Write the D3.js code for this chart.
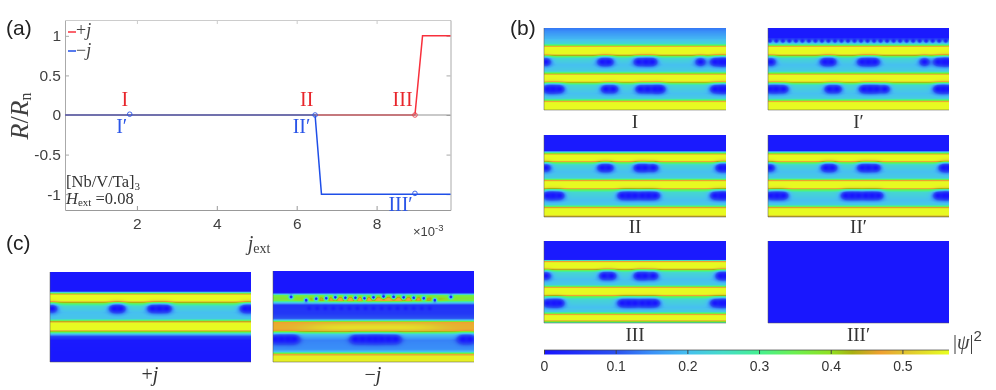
<!DOCTYPE html>
<html>
<head>
<meta charset="utf-8">
<script src="https://cdn.jsdelivr.net/npm/d3@7"></script>
<style>
html, body { margin: 0; background: #fff; }
#wrap { position: relative; width: 996px; height: 390px; overflow: hidden; }
canvas { position: absolute; }
svg { position: absolute; left: 0; top: 0; }
</style>
</head>
<body>
<div id="wrap"></div>
<script>
// (a) R/Rn curves
var jPlus = [0.2, 8.96, 9.15, 9.85];
var rPlus = [0, 0, 1, 1];
var jMinus = [0.2, 6.46, 6.62, 9.85];
var rMinus = [0, 0, -1, -1];
var yTicks = [-1, -0.5, 0, 0.5, 1];
var xTicks = [2, 4, 6, 8];
var markers = [[1.82, 0.01, "#2a55e8"], [6.46, 0, "#2a55e8"], [8.96, 0, "#e8404a"], [8.96, -0.99, "#2a55e8"]];
var curveLabels = [["I", 1.7, 0.19, "#e8252b"], ["II", 6.25, 0.19, "#e8252b"], ["III", 8.65, 0.19, "#e8252b"],
    ["I\u2032", 1.62, -0.14, "#2a55e8"], ["II\u2032", 6.12, -0.14, "#2a55e8"], ["III\u2032", 8.6, -1.13, "#2a55e8"]];

// colour bar
var cbValues = [0, 0.1, 0.15, 0.2, 0.25, 0.3, 0.35, 0.4, 0.43, 0.47, 0.5, 0.565];
var cbColors = ["#1814ff", "#2a50f0", "#3a90f8", "#46c0f0", "#45dcc8", "#45f090", "#6cf050", "#90e020", "#a8b010", "#f0a030", "#e0c030", "#e8ff20"];
var cbTicks = [0, 0.1, 0.2, 0.3, 0.4, 0.5];

// |psi|^2 against height (0 top, 1 bottom) for every map
var profileI = [[0, .13], [.13, .19], [.19, .24], [.214, .37], [.223, .47], [.236, .56], [.315, .56], [.332, .47], [.341, .37], [.37, .24], [.45, .2], [.526, .22], [.552, .37], [.563, .47], [.576, .56], [.648, .56], [.66, .47], [.669, .37], [.7, .24], [.8, .2], [.858, .22], [.885, .37], [.895, .47], [.91, .56], [1, .56]];
var profileIp = [[0, .01], [.115, .01], [.15, .16], [.195, .25], [.214, .37], [.223, .47], [.236, .56], [.315, .56], [.332, .47], [.341, .37], [.37, .24], [.45, .2], [.526, .22], [.552, .37], [.563, .47], [.576, .56], [.648, .56], [.66, .47], [.669, .37], [.7, .24], [.8, .2], [.858, .22], [.885, .37], [.895, .47], [.91, .56], [1, .56]];
var profileII = [[0, .01], [.19, .01], [.205, .2], [.224, .37], [.232, .47], [.245, .56], [.31, .56], [.325, .47], [.334, .37], [.365, .24], [.45, .2], [.525, .22], [.546, .37], [.555, .47], [.57, .56], [.64, .56], [.655, .47], [.664, .37], [.7, .24], [.8, .2], [.85, .22], [.876, .37], [.885, .47], [.9, .56], [.975, .56], [.99, .47], [1, .4]];
var profileIII = [[0, .01], [.225, .01], [.24, .3], [.25, .47], [.265, .56], [.33, .56], [.345, .47], [.354, .37], [.385, .24], [.47, .2], [.535, .22], [.556, .37], [.565, .47], [.58, .56], [.65, .56], [.665, .47], [.674, .37], [.71, .24], [.81, .2], [.86, .22], [.886, .37], [.895, .47], [.91, .56], [.96, .56], [.975, .47], [.985, .37], [1, .25]];
var profileIIIp = [[0, .005], [1, .005]];
var profilePlus = [[0, .005], [.21, .005], [.225, .2], [.238, .37], [.245, .47], [.26, .56], [.32, .56], [.335, .47], [.344, .37], [.38, .24], [.45, .2], [.52, .21], [.544, .37], [.552, .47], [.57, .56], [.64, .56], [.655, .47], [.665, .37], [.69, .2], [.72, .07], [.76, .01], [1, .005]];
var profileMinus = [[0, .005], [.235, .005], [.255, .2], [.27, .36], [.3, .38], [.325, .36], [.345, .22], [.38, .05], [.47, .06], [.52, .1], [.54, .2], [.553, .36], [.565, .47], [.58, .48], [.63, .485], [.66, .47], [.67, .36], [.7, .2], [.76, .14], [.86, .15], [.885, .2], [.905, .36], [.915, .47], [.94, .55], [1, .55]];

// vortex rows: height and along-the-film positions 0..100
var xRow1I = [1, 32, 35.5, 52, 56, 59.5, 86, 94, 97.5, 100];
var xRow2I = [2, 5, 8.5, 34, 38, 53, 57, 61, 64, 94, 97.5, 100];
var xRow1Ip = [1.5, 31.5, 35, 52, 55.5, 59, 86.5, 94, 97.5, 100];
var xRow2Ip = [1, 4.5, 8.5, 34, 38, 53, 56.5, 60, 64.5, 94, 97, 100];
var xTopIp = [1, 4.6, 8.2, 11.8, 15.4, 19, 22.6, 26.2, 29.8, 33.4, 37, 40.6, 44.2, 47.8, 51.4, 55, 58.6, 62.2, 65.8, 69.4, 73, 76.6, 80.2, 83.8, 87.4, 91, 94.6, 98.2];
var xRow1II = [1, 32, 35.5, 52, 55.5, 60, 97, 100];
var xRow2II = [2, 5, 8.5, 43, 46.5, 50, 54, 57.5, 61, 94, 97.5, 100];
var xRow1IIp = [1, 32, 35.5, 52, 55.5, 59.5, 97, 100];
var xRow2IIp = [1.5, 5, 8.5, 43, 46.5, 50, 54, 57.5, 61, 94, 97.5, 100];
var xRow1III = [1, 33, 37, 52, 55.5, 60, 97, 100];
var xRow2III = [2, 5.5, 8.5, 43, 46.5, 50, 54, 57.5, 61, 94, 97.5, 100];
var xRowPlus = [1, 32, 35, 51, 54.5, 58, 97, 100];
var xTopMinus = [9, 16.5, 21.5, 26.5, 31, 36, 41, 45.5, 50, 55, 60, 65, 70, 75, 80.5, 88.5];
var yTopMinus = [.285, .32, .305, .3, .29, .295, .295, .3, .29, .28, .285, .29, .295, .3, .32, .285];
var xDimMinus = [18, 22, 26, 30, 34, 38, 42, 46, 50, 54, 58, 62, 66, 70, 74, 78];
var xRowMinus = [1, 4.2, 7.5, 10.5, 41, 44.5, 48, 51, 54, 57.5, 61, 94.5, 98];

function rowOf(y, xs, sx, sy, depth) {
    return xs.map(function (x) { return { x: x, y: y, sx: sx, sy: sy, depth: depth }; });
}

// blob size along and across the film, in pixels
var bx = 4, by = 3.1;
var maps = [
    { name: "I", label: "I", box: [544, 28, 182, 82], ly: 127.5, profile: profileI, vortices: rowOf(.413, xRow1I, bx, by, 1).concat(rowOf(.745, xRow2I, bx, by, 1)) },
    { name: "Ip", label: "I\u2032", box: [768, 28, 181, 82], ly: 127.5, profile: profileIp, vortices: rowOf(.413, xRow1Ip, bx, by, 1).concat(rowOf(.745, xRow2Ip, bx, by, 1)).concat(rowOf(.155, xTopIp, 1.6, 1.6, .9)) },
    { name: "II", label: "II", box: [544, 135, 182, 82], ly: 233, profile: profileII, vortices: rowOf(.4, xRow1II, bx, by, 1).concat(rowOf(.739, xRow2II, bx, by, 1)) },
    { name: "IIp", label: "II\u2032", box: [768, 135, 181, 82], ly: 233, profile: profileII, vortices: rowOf(.4, xRow1IIp, bx, by, 1).concat(rowOf(.739, xRow2IIp, bx, by, 1)) },
    { name: "III", label: "III", box: [544, 241, 182, 82], ly: 341, profile: profileIII, vortices: rowOf(.425, xRow1III, bx, by, 1).concat(rowOf(.757, xRow2III, bx, by, 1)) },
    { name: "IIIp", label: "III\u2032", box: [768, 241, 181, 82], ly: 341, profile: profileIIIp, vortices: [] },
    { name: "plus", box: [50, 272, 201, 90], profile: profilePlus, vortices: rowOf(.407, xRowPlus, 4.2, 3.2, 1) },
    { name: "minus", box: [273, 271, 201, 91], profile: profileMinus,
      bumps: [{ x: 50, y: .315, amp: .13, sx: 32, sy: .03 }, { x: 50, y: .62, amp: .05, sx: 34, sy: .05 }],
      vortices: xTopMinus.map(function (x, i) { return { x: x, y: yTopMinus[i], sx: 1.5, sy: 1.5, depth: 1 }; })
        .concat(rowOf(.41, xDimMinus, 1.6, 1.6, .6)).concat(rowOf(.75, xRowMinus, bx, by, 1)) }
];

var W = 996, H = 390;
var wrap = d3.select("#wrap");
var color = d3.scaleLinear().domain(cbValues).range(cbColors).interpolate(d3.interpolateRgb).clamp(true);

// lookup so every pixel does not parse a colour string
var lut = d3.range(0, 601).map(function (i) { return d3.rgb(color(i / 1000)); });

function drawMap(m) {
    var w = m.box[2], h = m.box[3];
    var cv = wrap.append("canvas")
        .attr("width", w)
        .attr("height", h)
        .style("left", m.box[0] + "px")
        .style("top", m.box[1] + "px")
        .style("filter", "blur(0.4px)");
    var ctx = cv.node().getContext("2d");
    var img = ctx.createImageData(w, h);
    var xf = d3.scaleLinear().domain([0, 100]).range([0, w]);
    var yf = d3.scaleLinear().domain([0, 1]).range([0, h]);
    var prof = d3.scaleLinear().domain(m.profile.map(function (d) { return d[0]; }))
        .range(m.profile.map(function (d) { return d[1]; })).clamp(true);
    for (var j = 0; j < h; j++) {
        for (var i = 0; i < w; i++) {
            var fx = xf.invert(i + 0.5), fy = yf.invert(j + 0.5);
            var v = prof(fy);
            (m.bumps || []).forEach(function (b) {
                var dx = (fx - b.x) / b.sx, dy = (fy - b.y) / b.sy;
                v += b.amp * Math.exp(-(dx * dx * dx * dx) - dy * dy);
            });
            m.vortices.forEach(function (p) {
                var dx = (i + 0.5 - xf(p.x)) / p.sx, dy = (j + 0.5 - yf(p.y)) / p.sy;
                v *= 1 - p.depth * Math.exp(-(dx * dx + dy * dy) / 2);
            });
            var c = lut[Math.max(0, Math.min(600, Math.round(v * 1000)))];
            var k = (j * w + i) * 4;
            img.data[k] = c.r; img.data[k + 1] = c.g; img.data[k + 2] = c.b; img.data[k + 3] = 255;
        }
    }
    ctx.putImageData(img, 0, 0);
}
maps.forEach(drawMap);

var svg = wrap.append("svg").attr("width", W).attr("height", H);

var serif = "'Liberation Serif', serif";
var sans = "'Liberation Sans', Arial, sans-serif";

// panel edges of the maps
maps.forEach(function (m) {
    var b = m.box;
    svg.append("path")
        .attr("d", "M" + b[0] + "," + b[1] + "V" + (b[1] + b[3]) + "H" + (b[0] + b[2]))
        .attr("fill", "none").attr("stroke", "#555").attr("stroke-opacity", 0.5);
    if (m.label) {
        svg.append("text").attr("x", b[0] + b[2] / 2).attr("y", m.ly)
            .attr("text-anchor", "middle").attr("font-family", serif).attr("font-size", 19)
            .attr("fill", "#333").text(m.label);
    }
});

// (a)
var x = d3.scaleLinear().domain([0.2, 9.85]).range([65, 450.5]);
var y = d3.scaleLinear().domain([-1.2, 1.2]).range([210, 20]);
var line = d3.line().x(function (d) { return x(d[0]); }).y(function (d) { return y(d[1]); });

function styleAxis(g, stroke) {
    g.selectAll("path").attr("stroke", stroke);
    g.selectAll("line").attr("stroke", stroke);
    g.selectAll("text").attr("fill", "#404040").attr("font-family", sans).attr("font-size", 15.5);
}
svg.append("g").attr("transform", "translate(0,210)")
    .call(d3.axisBottom(x).tickValues(xTicks).tickFormat(d3.format("d")).tickSizeInner(-4).tickSizeOuter(0).tickPadding(8)).call(styleAxis, "#999");
svg.append("g").attr("transform", "translate(65,0)")
    .call(d3.axisLeft(y).tickValues(yTicks).tickFormat(function (d) { return d3.format("")(d).replace("\u2212", "-"); }).tickSizeInner(-4).tickSizeOuter(0).tickPadding(4)).call(styleAxis, "#aaa");
svg.append("g").attr("transform", "translate(0,20)")
    .call(d3.axisTop(x).tickValues(xTicks).tickFormat("").tickSizeInner(-4).tickSizeOuter(0)).call(styleAxis, "#ccc");
svg.append("g").attr("transform", "translate(450.5,0)")
    .call(d3.axisRight(y).tickValues(yTicks).tickFormat("").tickSizeInner(-4).tickSizeOuter(0)).call(styleAxis, "#aaa");

svg.append("path").attr("d", line(jPlus.map(function (d, i) { return [d, rPlus[i]]; })))
    .attr("fill", "none").attr("stroke", "#f8303c").attr("stroke-width", 1.5);
svg.append("path").attr("d", line(jMinus.map(function (d, i) { return [d, rMinus[i]]; })))
    .attr("fill", "none").attr("stroke", "#1f4fe8").attr("stroke-width", 1.5);
svg.append("path").attr("d", line([[0.2, 0], [9.85, 0]]))
    .attr("fill", "none").attr("stroke", "#909090").attr("stroke-opacity", 0.65).attr("stroke-width", 1.6);

svg.selectAll(".mk").data(markers).enter().append("circle").attr("class", "mk")
    .attr("cx", function (d) { return x(d[0]); })
    .attr("cy", function (d) { return y(d[1]); })
    .attr("r", 2.3)
    .attr("fill", "none")
    .attr("stroke-width", 0.9)
    .attr("stroke", function (d) { return d[2]; });

svg.selectAll(".cl").data(curveLabels).enter().append("text").attr("class", "cl")
    .attr("x", function (d) { return x(d[1]); })
    .attr("y", function (d) { return y(d[2]) + 6.5; })
    .attr("text-anchor", "middle")
    .attr("font-family", serif).attr("font-size", 20)
    .attr("fill", function (d) { return d[3]; })
    .text(function (d) { return d[0]; });

// legend
function mathText(px, py, size, fill, parts, anchor) {
    var t = svg.append("text").attr("x", px).attr("y", py)
        .attr("font-family", serif).attr("font-size", size).attr("fill", fill)
        .attr("text-anchor", anchor || "start");
    parts.forEach(function (p) {
        var s = t.append("tspan").text(p.t);
        if (p.i) s.attr("font-style", "italic");
        if (p.s) s.attr("font-size", p.s);
        if (p.dy) s.attr("dy", p.dy);
        if (p.f) s.attr("font-family", p.f);
    });
    return t;
}
svg.append("line").attr("x1", 68).attr("x2", 76).attr("y1", 32).attr("y2", 32).attr("stroke", "#f8303c").attr("stroke-width", 1.5);
svg.append("line").attr("x1", 68).attr("x2", 76).attr("y1", 51).attr("y2", 51).attr("stroke", "#1f4fe8").attr("stroke-width", 1.5);
mathText(76, 36, 18, "#444", [{ t: "+" }, { t: "j", i: 1 }]);
mathText(76, 56, 18, "#444", [{ t: "\u2212" }, { t: "j", i: 1 }]);

mathText(66, 187, 16.5, "#333", [{ t: "[Nb/V/Ta]" }, { t: "3", s: 11, dy: 3 }]);
mathText(66, 204, 16.5, "#333", [{ t: "H", i: 1 }, { t: "ext", s: 11, dy: 2 }, { t: " =0.08", dy: -2 }]);

// axis titles
mathText(0, 0, 26, "#404040", [{ t: "R", i: 1 }, { t: "/" }, { t: "R", i: 1 }, { t: "n", s: 16, dy: 3 }], "middle")
    .attr("transform", "translate(28,116) rotate(-90)");
mathText(259, 250, 20, "#404040", [{ t: "j", i: 1 }, { t: "ext", s: 14, dy: 3 }], "middle");
mathText(413, 236, 13, "#404040", [{ t: "\u00d710", f: sans }, { t: "-3", s: 9.5, dy: -5, f: sans }]);

// panel letters
svg.selectAll(".pl").data([["(a)", 6, 35], ["(b)", 510, 35], ["(c)", 6, 250]]).enter().append("text").attr("class", "pl")
    .attr("x", function (d) { return d[1]; }).attr("y", function (d) { return d[2]; })
    .attr("font-family", sans).attr("font-size", 21).attr("fill", "#222")
    .text(function (d) { return d[0]; });

// captions of (c)
mathText(150, 381, 20, "#333", [{ t: "+" }, { t: "j", i: 1 }], "middle");
mathText(373, 381, 20, "#333", [{ t: "\u2212" }, { t: "j", i: 1 }], "middle");

// colour bar
var cbX = d3.scaleLinear().domain([0, 0.565]).range([544, 949]);
var defs = svg.append("defs");
var grad = defs.append("linearGradient").attr("id", "cb");
cbValues.forEach(function (v, i) {
    grad.append("stop").attr("offset", (v / 0.565)).attr("stop-color", cbColors[i]);
});
svg.append("rect").attr("x", 544).attr("y", 350).attr("width", 405).attr("height", 4.5).attr("fill", "url(#cb)");
svg.append("line").attr("x1", 544).attr("x2", 949).attr("y1", 350).attr("y2", 350).attr("stroke", "#444").attr("stroke-opacity", 0.7);
var cbAxis = svg.append("g").attr("transform", "translate(0,354)")
    .call(d3.axisBottom(cbX).tickValues(cbTicks).tickFormat(function (d) { return d === 0 ? "0" : d3.format(".1f")(d); }).tickSizeInner(-4).tickSizeOuter(0).tickPadding(7));
cbAxis.select(".domain").remove();
cbAxis.selectAll("line").attr("stroke", "#444");
cbAxis.selectAll("text").attr("fill", "#333").attr("font-family", sans).attr("font-size", 14);

mathText(953, 349, 20, "#404040", [{ t: "|" }, { t: "\u03c8", i: 1 }, { t: "|" }, { t: "2", s: 15, dy: -8, f: sans }]);
</script>
</body>
</html>
